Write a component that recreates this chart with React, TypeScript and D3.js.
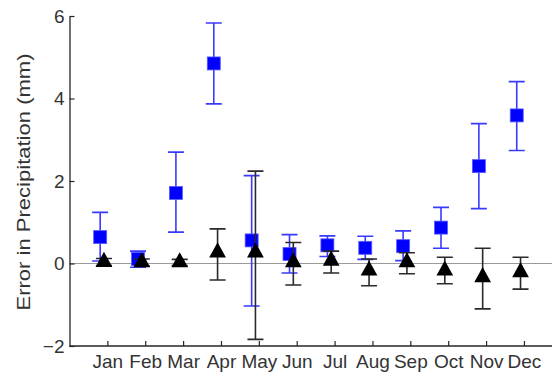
import React, { useRef, useEffect } from 'react';
import * as d3 from 'd3';

// month labels on the x axis
const months = ['Jan', 'Feb', 'Mar', 'Apr', 'May', 'Jun', 'Jul', 'Aug', 'Sep', 'Oct', 'Nov', 'Dec'];

// blue squares: mean error, lower and upper bar ends
const blueMean = [0.64, 0.11, 1.71, 4.85, 0.56, 0.23, 0.44, 0.38, 0.42, 0.87, 2.36, 3.59];
const blueLow = [0.06, -0.09, 0.76, 3.87, -1.03, -0.23, 0.17, 0.10, 0.07, 0.37, 1.33, 2.74];
const blueHigh = [1.24, 0.30, 2.70, 5.83, 2.13, 0.70, 0.67, 0.66, 0.79, 1.36, 3.39, 4.41];

// black triangles
const blackMean = [0.04, 0.03, 0.03, 0.27, 0.27, 0.03, 0.07, -0.17, 0.03, -0.17, -0.33, -0.21];
const blackLow = [-0.05, -0.06, -0.05, -0.40, -1.84, -0.52, -0.23, -0.54, -0.25, -0.49, -1.10, -0.62];
const blackHigh = [0.12, 0.11, 0.10, 0.84, 2.24, 0.51, 0.30, 0.11, 0.26, 0.15, 0.37, 0.15];

const yTicks = [-2, 0, 2, 4, 6];

const W = 552;
const H = 372;

const App = () => {
  const ref = useRef<SVGSVGElement>(null);

  useEffect(() => {
    const svg = d3.select(ref.current);
    svg.selectAll('*').remove();

    const axisColor = '#262626';
    const font = 'Arial, "Liberation Sans", sans-serif';

    const x = d3.scaleLinear().domain([0, 13]).range([69.5, 69.5 + 13 * 37.87]);
    const y = d3.scaleLinear().domain([-2, 6]).range([346, 16]);

    // zero line
    svg.append('line')
      .attr('x1', x(0)).attr('x2', W)
      .attr('y1', y(0)).attr('y2', y(0))
      .attr('stroke', '#9a9a9a')
      .attr('stroke-width', 1);

    // axes (ticks pointing inward)
    const xAxis = svg.append('g')
      .attr('transform', `translate(0,${y(-2)})`)
      .call(d3.axisBottom(x).tickValues(d3.range(1, 13)).tickSizeInner(-5).tickSizeOuter(0)
        .tickFormat((d) => months[(d as number) - 1]));
    xAxis.select('.domain').attr('d', `M${x(0)},0H${W}`).attr('stroke', axisColor).attr('stroke-width', 1.3);
    xAxis.selectAll('.tick line').attr('stroke', axisColor).attr('stroke-width', 1.2);
    xAxis.selectAll('.tick text')
      .attr('y', 22)
      .attr('dy', 0)
      .attr('fill', '#333')
      .style('font-family', font)
      .style('font-size', '19px');

    const yAxis = svg.append('g')
      .attr('transform', `translate(${x(0)},0)`)
      .call(d3.axisLeft(y).tickValues(yTicks).tickSizeInner(-5).tickSizeOuter(0).tickFormat(d3.format('d')));
    yAxis.select('.domain').attr('stroke', axisColor).attr('stroke-width', 1.3);
    yAxis.selectAll('.tick line').attr('stroke', axisColor).attr('stroke-width', 1.2);
    yAxis.selectAll('.tick text')
      .attr('x', -5)
      .attr('fill', '#333')
      .style('font-family', font)
      .style('font-size', '19px');

    // y label
    svg.append('text')
      .attr('transform', `translate(30,182) rotate(-90)`)
      .attr('text-anchor', 'middle')
      .attr('fill', '#333')
      .attr('textLength', 257)
      .attr('lengthAdjust', 'spacingAndGlyphs')
      .style('font-family', font)
      .style('font-size', '19px')
      .text('Error in Precipitation (mm)');

    const capW = 8;

    // blue error bars + squares
    const blue = svg.append('g');
    months.forEach((m, i) => {
      const cx = x(i + 1 - 0.19);
      blue.append('path')
        .attr('d', `M${cx},${y(blueLow[i])}V${y(blueHigh[i])}M${cx - capW},${y(blueHigh[i])}H${cx + capW}M${cx - capW},${y(blueLow[i])}H${cx + capW}`)
        .attr('stroke', '#3a3aff')
        .attr('stroke-width', 1.6)
        .attr('fill', 'none');
      blue.append('rect')
        .attr('x', cx - 6.5).attr('y', y(blueMean[i]) - 6.5)
        .attr('width', 13).attr('height', 13)
        .attr('fill', '#0000ff')
        .attr('stroke', '#5a5aff')
        .attr('stroke-width', 0.8);
    });

    // black error bars + triangles
    const black = svg.append('g');
    const tri = d3.symbol().type(d3.symbolTriangle).size(110);
    months.forEach((m, i) => {
      const cx = x(i + 1 - 0.09);
      black.append('path')
        .attr('d', `M${cx},${y(blackLow[i])}V${y(blackHigh[i])}M${cx - capW},${y(blackHigh[i])}H${cx + capW}M${cx - capW},${y(blackLow[i])}H${cx + capW}`)
        .attr('stroke', '#2a2a2a')
        .attr('stroke-width', 1.6)
        .attr('fill', 'none');
      black.append('path')
        .attr('d', tri()!)
        .attr('transform', `translate(${cx},${y(blackMean[i])}) scale(1.05,1.1)`)
        .attr('fill', '#000');
    });
  }, []);

  return (
    <svg ref={ref} width={W} height={H}
      style={{ position: 'absolute', left: 0, top: 0, background: '#fff' }} />
  );
};

export default App;
